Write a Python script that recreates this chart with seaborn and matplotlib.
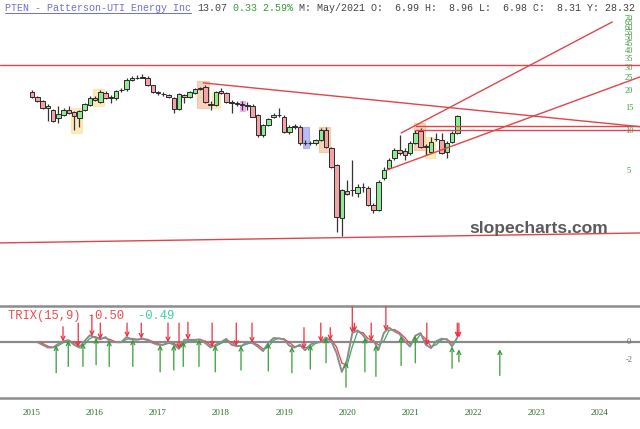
import numpy as np
import matplotlib
matplotlib.use("Agg")
import matplotlib.pyplot as plt
from matplotlib.patches import Rectangle
from matplotlib.lines import Line2D
from matplotlib.ticker import NullLocator
import seaborn as sns

# ---------------- data (monthly candles, Jan 2015 = month 0) ----------------
opens = [19.7, 18.0, 16.8, 14.9, 14.4, 12.5, 13.2, 14.4, 13.9, 12.55,
         14.4, 15.7, 17.7, 16.6, 19.3, 18.0, 17.7, 20.3, 20.7, 24.2,
         25.0, 25.1, 25.1, 22.0, 19.6, 19.1, 18.65, 17.6, 14.6, 18.65,
         18.1, 19.2, 20.7, 21.6, 15.95, 15.7, 19.97, 19.2, 16.6, 16.2,
         15.95, 15.7, 15.4, 13.2, 9.33, 11.1, 12.7, 13.2, 12.8, 9.88,
         10.9, 10.75, 8.13, 8.13, 8.13, 8.56, 10.2, 7.45, 5.55, 2.22,
         3.56, 3.58, 3.40, 3.80, 3.73, 2.78, 2.55, 4.44, 5.27, 6.27,
         7.20, 7.08, 6.84, 8.15, 10.05, 7.6, 6.99, 8.7, 8.56, 6.98,
         8.28, 9.71]
highs = [20.3, 18.3, 17.1, 15.95, 14.6, 15.4, 14.9, 15.4, 14.1, 14.4,
         16.2, 18.3, 18.3, 20.3, 19.97, 18.65, 20.3, 21.0, 25.0, 25.9,
         26.4, 26.9, 25.9, 22.2, 19.97, 19.6, 18.97, 18.0, 19.3, 18.97,
         19.97, 21.0, 21.4, 22.0, 16.8, 19.97, 21.0, 19.6, 17.1, 16.8,
         16.8, 16.6, 15.95, 13.4, 11.3, 12.5, 13.65, 14.9, 13.2, 11.1,
         11.3, 11.1, 8.56, 8.4, 8.7, 10.5, 10.7, 7.58, 5.65, 3.66,
         4.28, 6.05, 3.99, 4.06, 3.86, 2.88, 4.28, 5.37, 6.27, 7.45,
         9.33, 7.45, 8.4, 10.2, 10.5, 7.99, 8.96, 9.66, 9.7, 8.4,
         10.0, 13.2]
lows = [17.7, 16.5, 14.6, 11.8, 11.7, 11.5, 12.96, 13.4, 10.2, 10.75,
        14.1, 15.4, 16.8, 16.2, 17.4, 16.2, 17.1, 19.6, 19.97, 23.8,
        24.6, 25.0, 21.8, 19.3, 18.65, 18.3, 17.7, 13.65, 14.4, 16.2,
        17.7, 18.97, 20.3, 16.2, 14.4, 15.4, 18.97, 16.2, 13.65, 15.4,
        14.4, 14.4, 12.7, 9.0, 9.0, 10.9, 12.5, 12.7, 9.66, 9.49,
        10.35, 7.85, 7.85, 7.85, 7.85, 8.4, 7.45, 5.27, 1.75, 1.61,
        3.30, 3.24, 3.19, 3.48, 2.73, 2.42, 2.50, 4.28, 5.18, 6.05,
        6.60, 6.05, 6.60, 7.99, 7.45, 6.60, 6.98, 8.4, 6.72, 6.27,
        8.13, 9.49]
closes = [17.9, 16.8, 14.9, 15.4, 11.9, 13.4, 14.4, 13.65, 12.96, 14.1,
          15.95, 17.7, 17.1, 19.7, 17.7, 17.6, 19.97, 20.5, 24.2, 25.0,
          25.1, 25.6, 22.2, 19.7, 19.3, 18.97, 18.1, 14.6, 18.9, 18.1,
          19.5, 20.7, 20.9, 16.6, 15.7, 19.5, 19.3, 16.6, 16.1, 15.95,
          15.7, 15.5, 12.8, 9.33, 11.1, 12.25, 13.2, 13.1, 9.88, 10.75,
          10.75, 8.1, 8.1, 8.08, 8.56, 10.2, 7.6, 5.4, 2.27, 3.60,
          3.36, 3.60, 3.78, 3.82, 2.78, 2.55, 4.16, 5.13, 6.05, 7.14,
          6.84, 6.60, 8.15, 9.71, 7.6, 7.72, 8.31, 8.75, 6.87, 8.15,
          9.71, 13.07]

trix = [np.nan, 0.0, -0.3, -0.6, -0.6, -0.2, 0.1, 0.2, -0.3, -0.6,
        0.1, 0.75, 0.5, 0.3, 0.55, 0.0, 0.0, 0.0, 0.55, 0.3,
        0.25, 0.4, 0.2, -0.1, -0.3, -0.3, 0.0, -0.3, -0.75, 0.25,
        0.25, 0.25, 0.3, -0.1, -0.6, -0.3, 0.0, 0.35, -0.3, -0.45,
        -0.4, 0.0, -0.1, -0.5, -1.0, -0.1, 0.45, 0.4, 0.3, -0.4,
        -0.6, -0.3, -0.9, -0.3, 0.0, 0.0, 0.5, 0.1, -1.2, -3.3,
        -2.0, 1.0, 1.3, 0.8, 0.0, 0.2, -0.85, 1.0, 1.6, 1.2,
        0.9, 0.1, -0.5, 0.7, 1.0, -0.3, -0.67, 0.1, 0.37, 0.3,
        -0.48, 0.5]
signal = [np.nan, 0.0, -0.15, -0.45, -0.6, -0.4, -0.05, 0.15, -0.05, -0.45,
          -0.25, 0.4, 0.6, 0.4, 0.45, 0.25, 0.0, 0.0, 0.3, 0.4,
          0.3, 0.35, 0.3, 0.05, -0.2, -0.3, -0.15, -0.15, -0.5, -0.25,
          0.25, 0.25, 0.28, 0.1, -0.35, -0.45, -0.15, 0.2, 0.0, -0.4,
          -0.42, -0.2, -0.05, -0.3, -0.75, -0.55, 0.2, 0.42, 0.35, -0.05,
          -0.5, -0.45, -0.6, -0.6, -0.15, 0.0, 0.25, 0.3, -0.55, -2.3,
          -2.6, -0.5, 1.15, 1.05, 0.4, 0.1, -0.3, 0.1, 1.3, 1.4,
          1.05, 0.5, -0.2, 0.1, 0.85, 0.35, -0.5, -0.3, 0.25, 0.33,
          -0.1, 0.0]

sell_x = [5.9, 8.8, 11.4, 13.0, 18.1, 20.8, 25.9, 28.0, 29.7, 34.3, 38.9,
          41.9, 51.8, 55.0, 56.8, 61.0, 61.4, 64.6, 67.4, 75.2, 81.0, 81.3]
sell_tail = [1.7, 2.1, 3.0, 2.1, 2.1, 2.1, 2.1, 2.1, 2.2, 2.1, 2.1,
             2.1, 1.6, 2.1, 1.6, 3.9, 2.1, 2.1, 3.9, 2.1, 2.1, 2.1]
buy_x = [4.6, 6.9, 9.7, 12.2, 14.7, 19.2, 24.4, 27.0, 28.8, 31.8, 34.9, 39.8,
         45.0, 49.5, 53.0, 56.0, 59.8, 63.4, 65.5, 70.3, 73.0, 80.0, 81.3, 89.1]
buy_tail = [-3.4, -2.7, -2.7, -2.5, -2.7, -2.7, -3.3, -3.1, -2.7, -2.7, -3.3, -3.1,
            -3.2, -3.4, -3.0, -2.3, -5.0, -3.3, -3.8, -2.6, -2.3, -2.9, -2.2, -3.7]
late_tip = -0.8

box_x0 = [7.4, 11.6, 31.5, 34.2, 39.7, 51.6, 54.7, 72.8, 74.9]
box_x1 = [9.5, 13.7, 33.8, 35.8, 40.6, 52.8, 56.8, 74.9, 76.8]
box_lo = [9.66, 15.4, 14.8, 14.8, 14.2, 7.5, 6.9, 7.2, 6.3]
box_hi = [14.9, 20.7, 23.6, 19.8, 16.9, 10.75, 10.75, 11.4, 9.05]
box_kind = ["yellow", "yellow", "orange", "yellow", "magenta", "blue",
            "orange", "orange", "yellow"]

# trend lines: (x0, price0, x1, price1)
trend_x0 = [-6.1, 32.6, -6.1, 67.6, 70.3, 73.1, 73.1]
trend_p0 = [31.3, 23.0, 1.44, 5.09, 9.66, 10.81, 10.17]
trend_x1 = [115.8, 115.8, 115.8, 115.8, 110.5, 115.8, 115.8]
trend_p1 = [31.3, 10.77, 1.71, 25.5, 66.0, 10.81, 10.17]

price_ticks = [5, 10, 15, 20, 25, 30, 35, 40, 45, 50, 55, 60, 65, 70]
year_labels = ["2015", "2016", "2017", "2018", "2019", "2020",
               "2021", "2022", "2023", "2024"]

# ---------------- figure ----------------
sns.set_theme(style="white")
plt.rcParams["font.family"] = ["DejaVu Sans"]

W, H = 640, 429
fig = plt.figure(figsize=(6.4, 4.29), dpi=100)
ax = fig.add_axes([0, 1 - 306 / H, 1, 306 / H])
ax2 = fig.add_axes([0, 31 / H, 1, 92 / H])
XMIN, XMAX = -6.1, 115.8

# main panel
ax.set_yscale("log")
ax.set_xlim(XMIN, XMAX)
ax.set_ylim(0.483, 96.6)
for s in ax.spines.values():
    s.set_visible(False)
ax.set_xticks([])
ax.set_yticks([])
ax.yaxis.set_minor_locator(NullLocator())
ax.yaxis.set_major_locator(NullLocator())

box_colors = {"yellow": ("#fbe09a", 0.65), "orange": ("#f4b48a", 0.6),
              "magenta": ("#ee88ee", 0.6), "blue": ("#8f8ff2", 0.6)}
for x0, x1, lo, hi, k in zip(box_x0, box_x1, box_lo, box_hi, box_kind):
    col, a = box_colors[k]
    ax.add_patch(Rectangle((x0, lo), x1 - x0, hi - lo, facecolor=col,
                           edgecolor=col, alpha=a, lw=0.8, zorder=1))

m = np.arange(len(opens))
o = np.array(opens); c = np.array(closes)
hh = np.array(highs); ll = np.array(lows)
up = c >= o
blo = np.minimum(o, c); bhi = np.maximum(o, c)
ax.vlines(m, ll, hh, color="#333333", lw=0.9, zorder=2)
ax.bar(m[up], (bhi - blo)[up], bottom=blo[up], width=0.86, color="#92e892",
       edgecolor="#2a2a2a", linewidth=0.7, zorder=3)
ax.bar(m[~up], (bhi - blo)[~up], bottom=blo[~up], width=0.86, color="#f3a3a3",
       edgecolor="#2a2a2a", linewidth=0.7, zorder=3)

for x0, p0, x1, p1 in zip(trend_x0, trend_p0, trend_x1, trend_p1):
    ax.plot([x0, x1], [p0, p1], color="#e0454b", lw=1.0, zorder=4)

for v in price_ticks:
    ax.text(629 / W, v, str(v), transform=ax.get_yaxis_transform(),
            ha="center", va="center", fontsize=6, color="#3f9a3f",
            family=["Liberation Serif", "DejaVu Serif"])

fig.text(469 / W, 1 - 229 / H, "slopecharts.com", fontsize=12.6,
         fontweight="bold", color="#5b5b5b", ha="left", va="center",
         family=["Liberation Sans", "DejaVu Sans"])

# title line (monospace segments)
mono = ["Liberation Mono", "DejaVu Sans Mono"]
cw = 0.6 * 7.2 * 100 / 72
ty = 1 - 8 / H
segs = [(0, "PTEN - Patterson-UTI Energy Inc", "#6f6fd6"),
        (32, "13.07", "#444444"),
        (38, "0.33 2.59%", "#3a9a3a"),
        (49, "M: May/2021 O:  6.99 H:  8.96 L:  6.98 C:  8.31 Y: 28.32", "#444444")]
for idx, txt, col in segs:
    fig.text((5 + idx * cw) / W, ty, txt, fontsize=7.2, color=col,
             ha="left", va="center", family=mono)
fig.add_artist(Line2D([5 / W, (5 + 31 * cw) / W], [1 - 13 / H, 1 - 13 / H],
                      color="#6f6fd6", lw=0.7))

# TRIX panel
ax2.set_xlim(XMIN, XMAX)
ax2.set_ylim(-6.2, 4.0)
ax2.axhline(0, color="#8a8a8a", lw=1.6, zorder=1)
tr = np.array(trix); sg = np.array(signal)
for i in range(1, len(sg) - 1):
    col = "#3fae5a" if sg[i + 1] >= sg[i] else "#e8474f"
    ax2.plot([m[i], m[i + 1]], [sg[i], sg[i + 1]], color=col, lw=0.9, zorder=2)
sns.lineplot(x=m, y=tr, ax=ax2, color="#8c8c8c", lw=1.4, zorder=3)

valid = ~np.isnan(tr)
for x, tail in zip(sell_x, sell_tail):
    tip = np.interp(x, m[valid], tr[valid])
    ax2.annotate("", xy=(x, tip), xytext=(x, tail),
                 arrowprops=dict(arrowstyle="->", color="#ee2f3f", lw=0.9,
                                 shrinkA=0, shrinkB=0, mutation_scale=7), zorder=4)
for x, tail in zip(buy_x, buy_tail):
    tip = np.interp(x, m[valid], tr[valid]) if x <= m[-1] else late_tip
    ax2.annotate("", xy=(x, tip), xytext=(x, tail),
                 arrowprops=dict(arrowstyle="->", color="#3a9a3a", lw=0.9,
                                 shrinkA=0, shrinkB=0, mutation_scale=7), zorder=4)

for s in ["left", "right"]:
    ax2.spines[s].set_visible(False)
for s in ["top", "bottom"]:
    ax2.spines[s].set_visible(True)
    ax2.spines[s].set_color("#8c8c8c")
    ax2.spines[s].set_linewidth(1.8)
ax2.set_yticks([])
ax2.set_xticks(list(range(0, 12 * len(year_labels), 12)))
ax2.set_xticklabels(year_labels)
ax2.tick_params(axis="x", length=0, pad=8, labelsize=6.5, labelcolor="#2e6b2e")
for lbl in ax2.get_xticklabels():
    lbl.set_fontfamily(["Liberation Serif", "DejaVu Serif"])
ax2.set_xlabel("")
ax2.set_ylabel("")
for v in [0, -2]:
    ax2.text(629 / W, v, str(v), transform=ax2.get_yaxis_transform(),
             ha="center", va="center", fontsize=6, color="#666666",
             family=["Liberation Serif", "DejaVu Serif"])

tcw = 0.6 * 8.7 * 100 / 72
fig.text(8 / W, 1 - 316 / H, "TRIX(15,9) -0.50", fontsize=8.7, color="#ee4a52",
         ha="left", va="center", family=mono)
fig.text((8 + 18 * tcw) / W, 1 - 316 / H, "-0.49", fontsize=8.7, color="#3fcf9f",
         ha="left", va="center", family=mono)

fig.savefig("out.png", dpi=100)
